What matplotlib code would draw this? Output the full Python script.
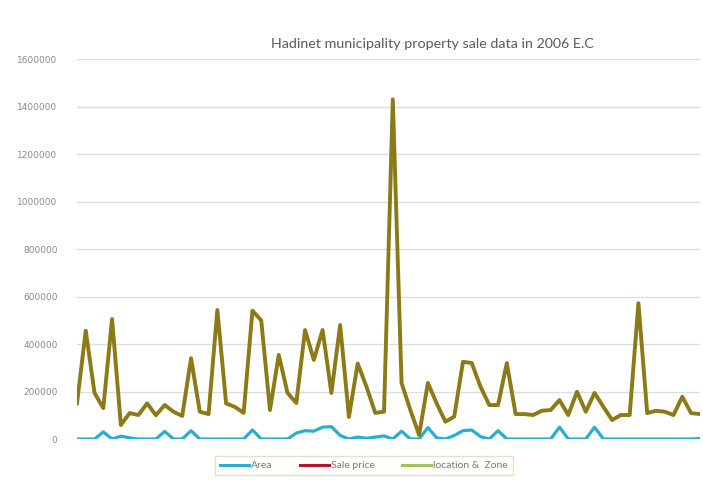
import matplotlib.pyplot as plt
from matplotlib.lines import Line2D
import numpy as np

plt.rcParams['font.family'] = ['Lato', 'DejaVu Sans']

# property records, in the order they were entered
area = [0, 0, 0, 30000, 0, 12000, 5000, 0, 0, 0,
        32000, 0, 0, 35000, 0, 0, 0, 0, 0, 0,
        38000, 0, 0, 0, 0, 25000, 35000, 33000, 50000, 52000,
        15000, 0, 8000, 3000, 8000, 13000, 0, 33000, 0, 0,
        48000, 5000, 0, 15000, 35000, 38000, 10000, 0, 35000, 0,
        0, 0, 0, 0, 0, 50000, 0, 0, 0, 50000,
        0, 0, 0, 0, 0, 0, 0, 0, 0, 0,
        0, 2000]

location_zone = [150000, 456000, 194000, 130000, 505000, 59000, 109000, 101000, 150000, 100000,
                 143000, 115000, 97000, 340000, 115000, 105000, 543000, 150000, 135000, 110000,
                 540000, 500000, 122000, 354000, 194000, 152000, 459000, 333000, 459000, 194000,
                 480000, 93000, 318000, 220000, 110000, 115000, 1430000, 236000, 122000, 17000,
                 236000, 150000, 73000, 94000, 325000, 320000, 220000, 143000, 143000, 320000,
                 105000, 105000, 101000, 119000, 122000, 164000, 101000, 199000, 115000, 194000,
                 136000, 80000, 101000, 101000, 572000, 109000, 119000, 115000, 101000, 178000,
                 109000, 105000]

# sale price runs under the location & zone line
sale_price = list(location_zone)

x = np.arange(len(location_zone))

fig = plt.figure(figsize=(7.03, 4.8), dpi=100)
ax = fig.add_axes([0.1095, 0.0854, 0.886, 0.7916])

ax.plot(x, area, color='#2aaed0', lw=2.3, solid_joinstyle='round', zorder=3)
ax.plot(x, sale_price, color='#b3162a', lw=1.4, solid_joinstyle='round', zorder=2)
ax.plot(x, location_zone, color='#8c7a17', lw=2.8, solid_joinstyle='round', zorder=4)

ax.set_xlim(0, len(x) - 1)
ax.set_ylim(0, 1600000)
ax.set_yticks(np.arange(0, 1600001, 200000))
ax.set_yticklabels([str(v) for v in range(0, 1600001, 200000)],
                   fontsize=6.5, color='#8a8a8a', family='DejaVu Sans')
ax.set_xticks([])
ax.tick_params(axis='y', length=0, pad=14)
ax.grid(axis='y', color='#dedede', lw=1)
ax.set_axisbelow(True)
for s in ax.spines.values():
    s.set_visible(False)

fig.text(0.615, 0.908, 'Hadinet municipality property sale data in 2006 E.C',
         ha='center', va='center', fontsize=10.3, color='#5a5a5a')

handles = [Line2D([], [], color='#2aaed0', lw=2.2),
           Line2D([], [], color='#b3162a', lw=2.2),
           Line2D([], [], color='#a4c35e', lw=2.2)]
leg = fig.legend(handles, ['Area', 'Sale price', 'location &  Zone'],
                 loc='center', bbox_to_anchor=(0.518, 0.03), ncol=3,
                 fontsize=7.5, frameon=True, fancybox=False,
                 handlelength=2.8, handletextpad=0.2, columnspacing=2.6,
                 borderpad=0.5, labelcolor='#7a7a7a')
leg.get_frame().set_edgecolor('#d4dcc2')
leg.get_frame().set_linewidth(1)

fig.savefig('out.png', dpi=100)
